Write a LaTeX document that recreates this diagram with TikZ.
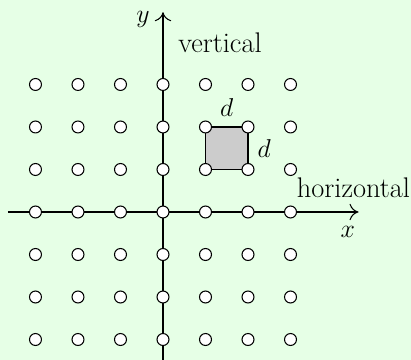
\documentclass[tikz,border=0pt]{standalone}
\usetikzlibrary{arrows.meta}
\definecolor{bgmint}{RGB}{230,255,230}
\begin{document}
\begin{tikzpicture}[scale=1.0,
        every node/.style={font=\fontsize{19}{23}\selectfont},
        site/.style={circle, draw, fill=white, line width=0.7pt, inner sep=0pt, minimum size=8pt},
        axis/.style={line width=0.7pt, -{To[length=6pt,width=11pt]}}]
        % Background and frame
        \fill[bgmint] (-3.835,-3.482) rectangle (5.835,4.988);
        \useasboundingbox (-3.835,-3.482) rectangle (5.835,4.988);
        % Axis end points
        \coordinate (xl) at (-3.65,0);
        \coordinate (xr) at (4.6,0);
        \coordinate (yb) at (0,-3.5);
        \coordinate (yt) at (0,4.7);
        % Lattice sites
        \foreach \i in {-3,...,3}
            \foreach \j in {-3,...,3}
                \coordinate (p\i_\j) at (\i,\j);
        % Unit cell
        \fill[gray!40] (p1_1) rectangle (p2_2);
        \draw[line width=0.7pt] (p1_1) rectangle (p2_2);
        % Axes
        \draw[axis] (xl) -- (xr);
        \draw[axis] (yb) -- (yt);
        % Sites on top
        \foreach \i in {-3,...,3}
            \foreach \j in {-3,...,3}
                \node[site] (s\i_\j) at (p\i_\j) {};
        % Labels
        \node (ylab) at (-0.47,4.52) {$y$};
        \node (xlab) at (4.35,-0.47) {$x$};
        \node (vlab) at (1.34,3.98) {vertical};
        \node (hlab) at (4.48,0.565) {horizontal};
        \node (dtop) at (1.5,2.45) {$d$};
        \node (dside) at (2.38,1.5) {$d$};
\end{tikzpicture}
\end{document}
